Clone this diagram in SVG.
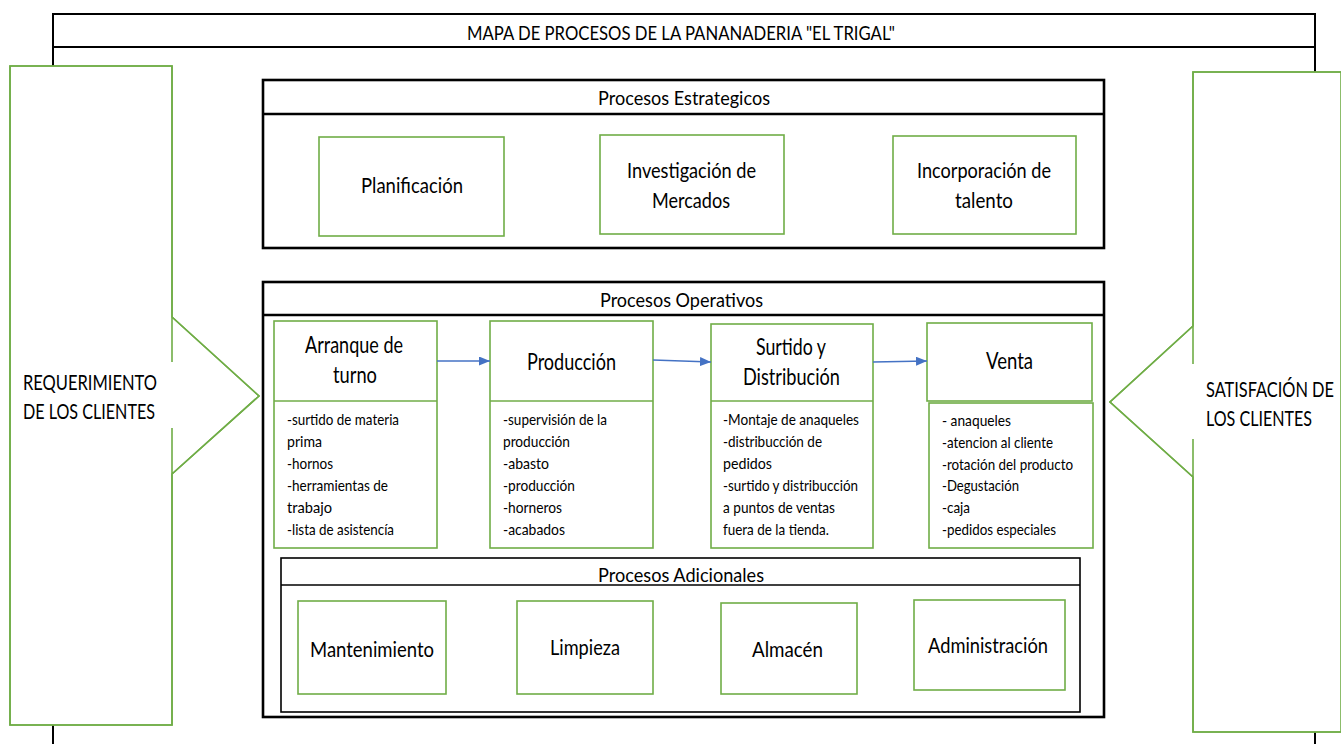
<svg xmlns="http://www.w3.org/2000/svg" width="1341" height="744" viewBox="0 0 1341 744">
<style>
text{font-family:Lato,"Liberation Sans",sans-serif;fill:#000}
.t20{font-size:20px}
.t21{font-size:21px}
.t22{font-size:22.5px}
.d{font-size:15px}
.frame{fill:none;stroke:#000;stroke-width:2}
.sec{fill:#fff;stroke:#000;stroke-width:2.6}
.sub{fill:#fff;stroke:#000;stroke-width:1.6}
.g{fill:#fff;stroke:#70AD47;stroke-width:1.6}
.gl{fill:none;stroke:#70AD47;stroke-width:1.6}
.conn{fill:none;stroke:#4472C4;stroke-width:1.6}
</style>
<defs>
<marker id="ah" markerWidth="11" markerHeight="9" refX="11" refY="4.5" orient="auto" markerUnits="userSpaceOnUse">
<path d="M0,0 L11,4.5 L0,9 Z" fill="#4472C4"/>
</marker>
</defs>
<rect width="1341" height="744" fill="#fff"/>
<g id="frame">
<path class="frame" d="M53,760 V14 H1315 V760"/>
<line class="frame" x1="53" y1="47" x2="1315" y2="47"/>
<text class="t20" x="467" y="40" textLength="428" lengthAdjust="spacingAndGlyphs">MAPA DE PROCESOS DE LA PANANADERIA "EL TRIGAL"</text>
</g>
<g id="requerimiento">
<path class="g" stroke="none" d="M10,66 H172 V317 L259,396 L172,474 V725 H10 Z"/>
<path class="gl" d="M172,362 V66 H10 V725 H172 V428 M172,362 V317 L259,396 L172,474 V428"/>
<text class="t21" x="23" y="390" textLength="134" lengthAdjust="spacingAndGlyphs">REQUERIMIENTO</text>
<text class="t21" x="23" y="419" textLength="132" lengthAdjust="spacingAndGlyphs">DE LOS CLIENTES</text>
</g>
<g id="satisfaccion">
<path class="g" stroke="none" d="M1341,72 H1193 V326 L1110,402 L1193,477 V732 H1341 Z"/>
<path class="gl" d="M1193,364 V72 H1341 M1341,732 H1193 V439 M1193,364 V326 L1110,402 L1193,477 V439"/>
<text class="t21" x="1206" y="397" textLength="128" lengthAdjust="spacingAndGlyphs">SATISFACIÓN DE</text>
<text class="t21" x="1206" y="426" textLength="106" lengthAdjust="spacingAndGlyphs">LOS CLIENTES</text>
</g>
<g id="estrategicos">
<rect class="sec" x="263" y="80" width="841" height="168"/>
<line class="sec" x1="263" y1="114" x2="1104" y2="114"/>
<text class="t20" x="598" y="105" textLength="172" lengthAdjust="spacingAndGlyphs">Procesos Estrategicos</text>
</g>
<g id="planificacion">
<rect class="g" x="319" y="137" width="185" height="99"/>
<text class="t21" x="361" y="193" textLength="102" lengthAdjust="spacingAndGlyphs">Planificación</text>
</g>
<g id="investigacion">
<rect class="g" x="600" y="135" width="184" height="99"/>
<text class="t21" x="627" y="178" textLength="129" lengthAdjust="spacingAndGlyphs">Investigación de</text>
<text class="t21" x="652" y="208" textLength="78" lengthAdjust="spacingAndGlyphs">Mercados</text>
</g>
<g id="incorporacion">
<rect class="g" x="893" y="136" width="183" height="98"/>
<text class="t21" x="917" y="178" textLength="134" lengthAdjust="spacingAndGlyphs">Incorporación de</text>
<text class="t21" x="955" y="208" textLength="58" lengthAdjust="spacingAndGlyphs">talento</text>
</g>
<g id="operativos">
<rect class="sec" x="263" y="282" width="841" height="435"/>
<line class="sec" x1="263" y1="315" x2="1104" y2="315"/>
<text class="t20" x="600" y="307" textLength="163" lengthAdjust="spacingAndGlyphs">Procesos Operativos</text>
</g>
<g id="arranque">
<rect class="g" x="274" y="321" width="163" height="227"/>
<line class="gl" x1="274" y1="401" x2="437" y2="401"/>
<text class="t22" x="305" y="353" textLength="98" lengthAdjust="spacingAndGlyphs">Arranque de</text>
<text class="t22" x="333" y="383" textLength="44" lengthAdjust="spacingAndGlyphs">turno</text>
<text class="d" x="287" y="425" textLength="112" lengthAdjust="spacingAndGlyphs">-surtido de materia</text>
<text class="d" x="287" y="447" textLength="35" lengthAdjust="spacingAndGlyphs">prima</text>
<text class="d" x="287" y="469" textLength="46" lengthAdjust="spacingAndGlyphs">-hornos</text>
<text class="d" x="287" y="491" textLength="101" lengthAdjust="spacingAndGlyphs">-herramientas de</text>
<text class="d" x="287" y="513" textLength="45" lengthAdjust="spacingAndGlyphs">trabajo</text>
<text class="d" x="287" y="535" textLength="107" lengthAdjust="spacingAndGlyphs">-lista de asistencía</text>
</g>
<g id="produccion">
<rect class="g" x="490" y="321" width="163" height="227"/>
<line class="gl" x1="490" y1="401" x2="653" y2="401"/>
<text class="t22" x="527" y="370" textLength="89" lengthAdjust="spacingAndGlyphs">Producción</text>
<text class="d" x="503" y="425" textLength="104" lengthAdjust="spacingAndGlyphs">-supervisión de la</text>
<text class="d" x="503" y="447" textLength="67" lengthAdjust="spacingAndGlyphs">producción</text>
<text class="d" x="503" y="469" textLength="46" lengthAdjust="spacingAndGlyphs">-abasto</text>
<text class="d" x="503" y="491" textLength="72" lengthAdjust="spacingAndGlyphs">-producción</text>
<text class="d" x="503" y="513" textLength="59" lengthAdjust="spacingAndGlyphs">-horneros</text>
<text class="d" x="503" y="535" textLength="62" lengthAdjust="spacingAndGlyphs">-acabados</text>
</g>
<g id="surtido">
<rect class="g" x="711" y="324" width="162" height="224"/>
<line class="gl" x1="711" y1="401" x2="873" y2="401"/>
<text class="t22" x="756" y="355" textLength="70" lengthAdjust="spacingAndGlyphs">Surtido y</text>
<text class="t22" x="743" y="385" textLength="97" lengthAdjust="spacingAndGlyphs">Distribución</text>
<text class="d" x="723" y="425" textLength="136" lengthAdjust="spacingAndGlyphs">-Montaje de anaqueles</text>
<text class="d" x="723" y="447" textLength="99" lengthAdjust="spacingAndGlyphs">-distribucción de</text>
<text class="d" x="723" y="469" textLength="49" lengthAdjust="spacingAndGlyphs">pedidos</text>
<text class="d" x="723" y="491" textLength="135" lengthAdjust="spacingAndGlyphs">-surtido y distribucción</text>
<text class="d" x="723" y="513" textLength="112" lengthAdjust="spacingAndGlyphs">a puntos de ventas</text>
<text class="d" x="723" y="535" textLength="106" lengthAdjust="spacingAndGlyphs">fuera de la tienda.</text>
</g>
<g id="venta">
<rect class="g" x="927" y="323" width="165" height="78"/>
<rect class="g" x="929" y="403" width="164" height="145"/>
<text class="t22" x="986" y="369" textLength="47" lengthAdjust="spacingAndGlyphs">Venta</text>
<text class="d" x="942" y="426" textLength="69" lengthAdjust="spacingAndGlyphs">- anaqueles</text>
<text class="d" x="942" y="448" textLength="111" lengthAdjust="spacingAndGlyphs">-atencion al cliente</text>
<text class="d" x="942" y="470" textLength="131" lengthAdjust="spacingAndGlyphs">-rotación del producto</text>
<text class="d" x="942" y="491" textLength="77" lengthAdjust="spacingAndGlyphs">-Degustación</text>
<text class="d" x="942" y="513" textLength="28" lengthAdjust="spacingAndGlyphs">-caja</text>
<text class="d" x="942" y="535" textLength="114" lengthAdjust="spacingAndGlyphs">-pedidos especiales</text>
</g>
<g id="connectors">
<line class="conn" x1="437" y1="361" x2="490" y2="361" marker-end="url(#ah)"/>
<line class="conn" x1="653" y1="360" x2="711" y2="362" marker-end="url(#ah)"/>
<line class="conn" x1="873" y1="362" x2="927" y2="361" marker-end="url(#ah)"/>
</g>
<g id="adicionales">
<rect class="sub" x="281" y="558" width="799" height="154"/>
<line class="sub" x1="281" y1="585" x2="1080" y2="585"/>
<text class="t20" x="598" y="582" textLength="166" lengthAdjust="spacingAndGlyphs">Procesos Adicionales</text>
</g>
<g id="mantenimiento">
<rect class="g" x="298" y="601" width="148" height="93"/>
<text class="t21" x="310" y="657" textLength="124" lengthAdjust="spacingAndGlyphs">Mantenimiento</text>
</g>
<g id="limpieza">
<rect class="g" x="517" y="601" width="136" height="93"/>
<text class="t21" x="550" y="655" textLength="70" lengthAdjust="spacingAndGlyphs">Limpieza</text>
</g>
<g id="almacen">
<rect class="g" x="721" y="603" width="136" height="91"/>
<text class="t21" x="752" y="657" textLength="71" lengthAdjust="spacingAndGlyphs">Almacén</text>
</g>
<g id="administracion">
<rect class="g" x="914" y="600" width="151" height="90"/>
<text class="t21" x="928" y="653" textLength="120" lengthAdjust="spacingAndGlyphs">Administración</text>
</g>
</svg>
